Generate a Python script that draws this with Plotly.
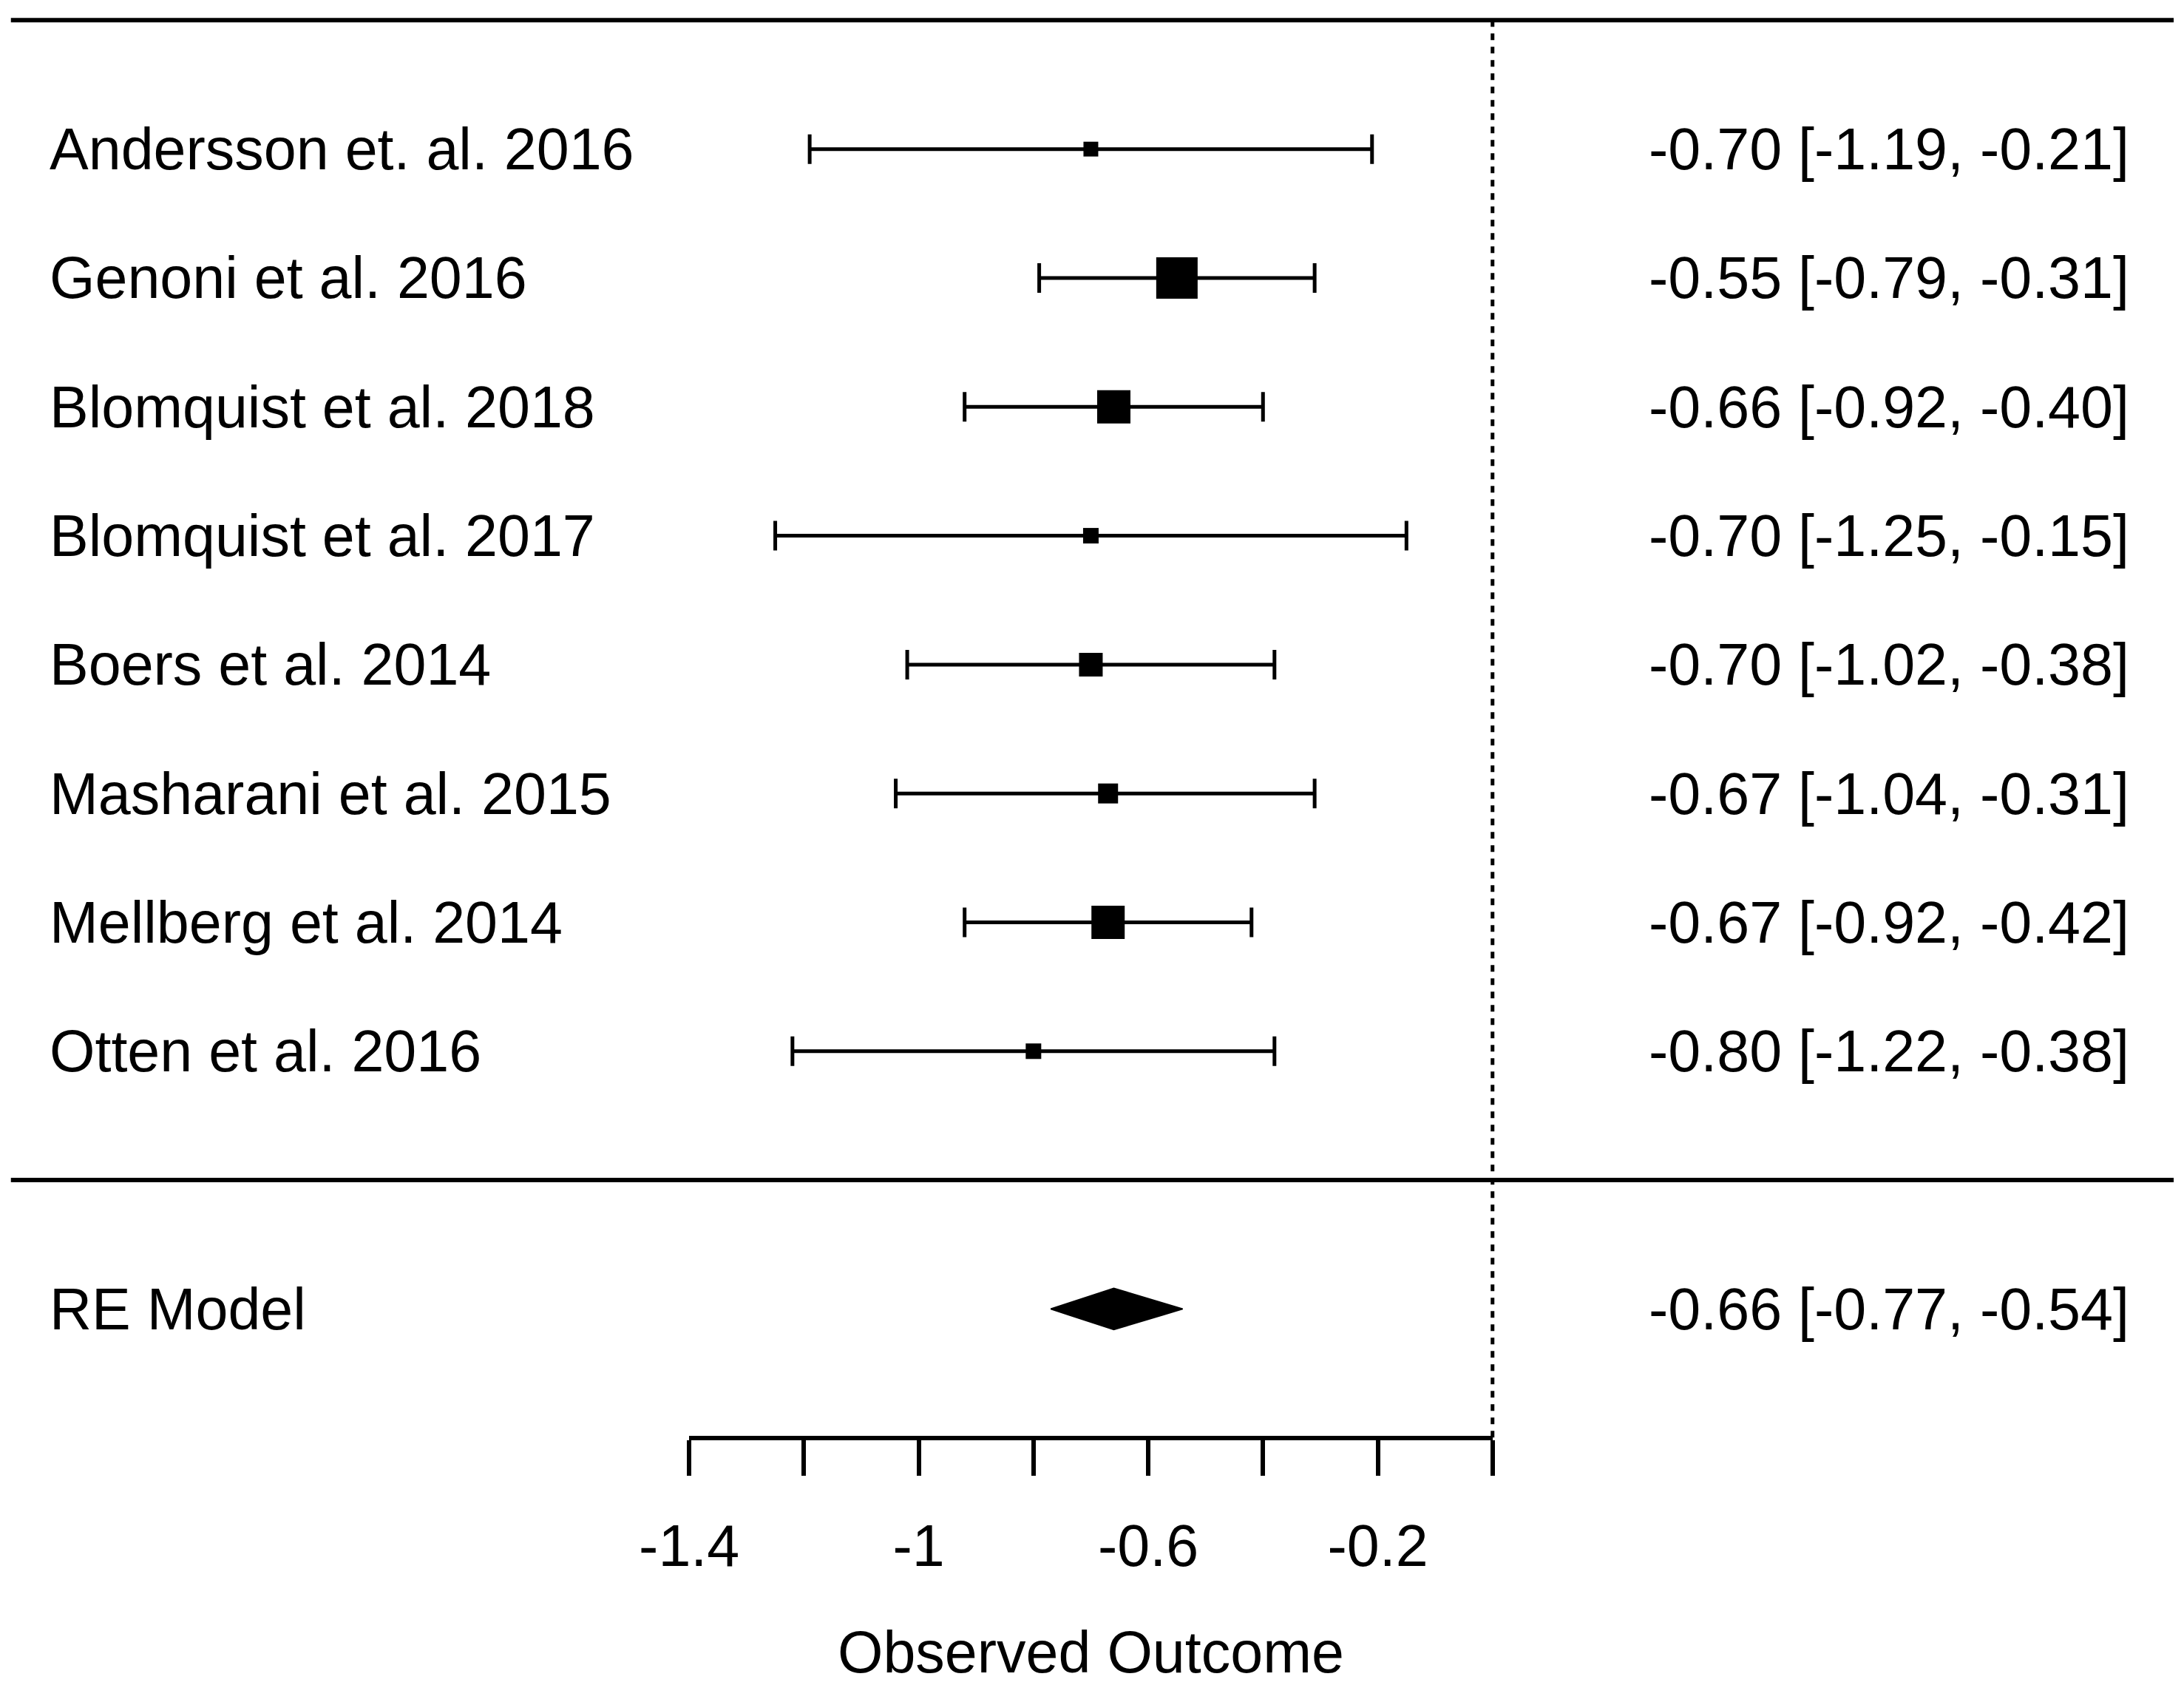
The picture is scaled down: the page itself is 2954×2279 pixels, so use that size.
import plotly.graph_objects as go

# study rows, top to bottom
STUDIES = [
    'Andersson et. al. 2016', 'Genoni et al. 2016', 'Blomquist et al. 2018', 'Blomquist et al. 2017',
    'Boers et al. 2014', 'Masharani et al. 2015', 'Mellberg et al. 2014', 'Otten et al. 2016'
]
ESTIMATE = [-0.70, -0.55, -0.66, -0.70, -0.70, -0.67, -0.67, -0.80]
CI_LOW = [-1.19, -0.79, -0.92, -1.25, -1.02, -1.04, -0.92, -1.22]
CI_HIGH = [-0.21, -0.31, -0.40, -0.15, -0.38, -0.31, -0.42, -0.38]
BOX_SIZE = [20, 56, 45, 21, 32, 27, 45, 21]  # square side in px (study weight)
ROWS = [8, 7, 6, 5, 4, 3, 2, 1]

RE_LABEL = 'RE Model'
RE_EST, RE_LOW, RE_HIGH = -0.66, -0.77, -0.54
RE_ROW = -1

TICK_VALS = [-1.4, -1.2, -1.0, -0.8, -0.6, -0.4, -0.2, 0.0]
TICK_TEXT = ['-1.4', '', '-1', '', '-0.6', '', '-0.2', '']

W, H = 2954, 2279
FONT = 'Liberation Sans, Arial, sans-serif'
FS = 79
LW = 6

# figure extent in data units (x: outcome, y: row)
XMIN, XMAX = -2.601, 1.205
YMIN, YMAX = -3.918, 9.157


def fmt(est, lo, hi):
    return f"{est:.2f} [{lo:.2f}, {hi:.2f}]"


def text_note(x, y, text, anchor):
    return dict(x=x, y=y, text=text, xanchor=anchor, yanchor='middle', showarrow=False,
                font=dict(size=FS, color='black', family=FONT))


def main():
    fig = go.Figure()

    # study squares with CI whiskers
    fig.add_trace(go.Scatter(
        x=ESTIMATE, y=ROWS, mode='markers',
        marker=dict(symbol='square', size=BOX_SIZE, color='black', opacity=1, line=dict(width=0)),
        error_x=dict(type='data', symmetric=False,
                     array=[h - e for e, h in zip(ESTIMATE, CI_HIGH)],
                     arrayminus=[e - l for e, l in zip(ESTIMATE, CI_LOW)],
                     color='black', thickness=5, width=20),
        showlegend=False, hoverinfo='skip'
    ))

    # summary diamond
    dh = 0.16
    fig.add_trace(go.Scatter(
        x=[RE_LOW, RE_EST, RE_HIGH, RE_EST, RE_LOW],
        y=[RE_ROW, RE_ROW + dh, RE_ROW, RE_ROW - dh, RE_ROW],
        mode='lines', fill='toself', fillcolor='black',
        line=dict(color='black', width=2),
        showlegend=False, hoverinfo='skip'
    ))

    # invisible trace so the short bottom axis gets drawn
    fig.add_trace(go.Scatter(
        x=[TICK_VALS[0], TICK_VALS[-1]], y=[-2, -2], xaxis='x2', yaxis='y',
        mode='markers', marker=dict(opacity=0), showlegend=False, hoverinfo='skip'
    ))

    annotations = []
    for name, est, lo, hi, row in zip(STUDIES, ESTIMATE, CI_LOW, CI_HIGH, ROWS):
        annotations.append(text_note(-2.517, row, name, 'left'))
        annotations.append(text_note(1.112, row, fmt(est, lo, hi), 'right'))
    annotations.append(text_note(-2.517, RE_ROW, RE_LABEL, 'left'))
    annotations.append(text_note(1.112, RE_ROW, fmt(RE_EST, RE_LOW, RE_HIGH), 'right'))

    shapes = [
        dict(type='line', x0=-2.582, x1=1.187, y0=9, y1=9, line=dict(color='black', width=LW)),
        dict(type='line', x0=-2.582, x1=1.187, y0=0, y1=0, line=dict(color='black', width=LW)),
        dict(type='line', x0=0, x1=0, y0=9, y1=-2, line=dict(color='black', width=5, dash='9px,9px')),
    ]

    span = XMAX - XMIN
    fig.update_layout(
        width=W, height=H,
        margin=dict(l=0, r=0, t=0, b=0, pad=0),
        paper_bgcolor='white', plot_bgcolor='rgba(0,0,0,0)',
        font=dict(family=FONT, size=FS, color='black'),
        xaxis=dict(range=[XMIN, XMAX], visible=False, domain=[0, 1], automargin=False),
        yaxis=dict(range=[YMIN, YMAX], visible=False, domain=[0, 1], automargin=False),
        xaxis2=dict(
            range=[TICK_VALS[0], TICK_VALS[-1]],
            domain=[(TICK_VALS[0] - XMIN) / span, (TICK_VALS[-1] - XMIN) / span],
            anchor='free', position=(-2 - YMIN) / (YMAX - YMIN), automargin=False,
            showline=True, linecolor='black', linewidth=LW,
            ticks='outside', ticklen=48, tickwidth=LW, tickcolor='black',
            tickvals=TICK_VALS, ticktext=TICK_TEXT, ticklabelstandoff=28,
            tickfont=dict(size=FS, color='black', family=FONT),
            showgrid=False, zeroline=False,
            title=dict(text='Observed Outcome', font=dict(size=FS, color='black', family=FONT),
                       standoff=75),
        ),
        annotations=annotations,
        shapes=shapes,
    )

    fig.write_html("out.html", config={'displayModeBar': False},
                   post_script="document.body.style.margin='0';")


if __name__ == "__main__":
    main()
